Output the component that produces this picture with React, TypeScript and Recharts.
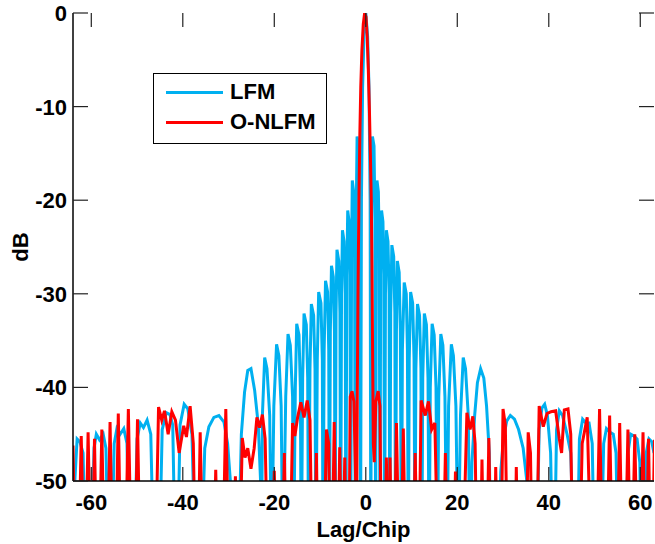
import React from "react";
import { LineChart, Line, XAxis, YAxis, Legend } from "recharts";

// lag (chip) vs. autocorrelation level (dB); -60 marks a null that falls below the axis
const lfmPoints: [number, number][] = [
  [-64.0, -60], [-63.6, -50], [-63.1, -45.5], [-62.5, -45.8], [-61.8, -47], [-61.2, -60],
  [-60.0, -60], [-59.4, -46.5], [-58.9, -45], [-58.2, -45.6], [-57.4, -45], [-56.8, -46.5], [-56.2, -60],
  [-55.6, -60], [-55.0, -46], [-54.4, -44.4], [-53.7, -45], [-52.9, -44.4], [-52.2, -46], [-51.6, -60],
  [-50.6, -60], [-50.0, -45.5], [-49.3, -43.8], [-48.6, -44.3], [-47.8, -43.5], [-47.0, -45], [-46.3, -60],
  [-45.2, -60], [-44.5, -44.5], [-43.6, -42.7], [-42.8, -42.9], [-42.2, -44], [-41.6, -60],
  [-41.2, -60], [-40.6, -44], [-39.7, -41.8], [-38.9, -42.3], [-38.0, -45], [-37.2, -60],
  [-36.0, -60], [-35.2, -46.5], [-34.3, -44.2], [-33.2, -43.2], [-32.1, -43.0], [-31.0, -43.7], [-30.2, -46], [-29.6, -50], [-29.2, -60],
  [-27.9, -60], [-27.2, -45], [-26.5, -40.5], [-25.8, -38.2], [-25.1, -38.0], [-24.3, -40.3], [-23.5, -44], [-23.0, -50], [-22.8, -60],
  [-22.6, -43], [-22.1, -36.8], [-21.6, -38.0], [-21.0, -43], [-20.6, -60],
  [-20.1, -42], [-19.5, -35.4], [-19.0, -36.6], [-18.5, -42], [-18.1, -60],
  [-17.5, -41], [-17.0, -34.3], [-16.5, -35.5], [-16.0, -41], [-15.8, -60],
  [-15.4, -40], [-15.1, -33.2], [-14.6, -34.4], [-14.3, -40], [-14.1, -60],
  [-13.8, -39], [-13.5, -32.1], [-13.0, -33.3], [-12.7, -39], [-12.5, -60],
  [-12.2, -38], [-11.9, -31.1], [-11.4, -32.3], [-11.1, -38], [-10.9, -60],
  [-10.6, -37], [-10.3, -29.8], [-9.8, -31], [-9.5, -37], [-9.35, -60],
  [-9.1, -36], [-8.8, -28.6], [-8.35, -29.8], [-8.1, -36], [-7.95, -60],
  [-7.75, -34], [-7.5, -27.0], [-7.1, -28.2], [-6.85, -34], [-6.7, -60],
  [-6.5, -32], [-6.3, -25.3], [-5.9, -26.5], [-5.65, -32], [-5.5, -60],
  [-5.3, -30], [-5.1, -23.2], [-4.75, -24.4], [-4.5, -30], [-4.35, -60],
  [-4.15, -28], [-3.95, -21.1], [-3.65, -22.3], [-3.45, -28], [-3.3, -60],
  [-3.1, -25], [-2.95, -17.9], [-2.65, -19.1], [-2.45, -25], [-2.3, -60],
  [-2.1, -22], [-1.9, -13.2], [-1.55, -14.2], [-1.3, -22], [-1.15, -60],
  [-0.95, -20], [-0.7, -8], [-0.4, -2.5], [0, 0], [0.4, -2.5], [0.7, -8], [0.95, -20], [1.1, -60],
  [1.25, -22], [1.45, -13.2], [1.8, -14.2], [2.0, -22], [2.15, -60],
  [2.3, -25], [2.45, -17.9], [2.75, -19.1], [2.95, -25], [3.1, -60],
  [3.25, -28], [3.45, -21.1], [3.75, -22.3], [3.95, -28], [4.1, -60],
  [4.3, -30], [4.5, -23.2], [4.85, -24.4], [5.1, -30], [5.25, -60],
  [5.45, -32], [5.7, -24.8], [6.1, -26], [6.35, -32], [6.5, -60],
  [6.7, -34], [6.9, -26.5], [7.3, -27.7], [7.55, -34], [7.8, -60],
  [8.0, -36], [8.4, -28.8], [8.85, -30], [9.1, -36], [9.3, -60],
  [9.5, -37], [9.8, -29.8], [10.25, -31], [10.55, -37], [10.75, -60],
  [10.95, -38], [11.3, -31.1], [11.75, -32.3], [12.05, -38], [12.25, -60],
  [12.45, -39], [12.8, -32.1], [13.25, -33.3], [13.6, -39], [13.85, -60],
  [14.1, -40], [14.5, -33.2], [14.95, -34.4], [15.35, -40], [15.65, -60],
  [15.95, -41], [16.4, -34.3], [16.85, -35.5], [17.3, -41], [17.75, -60],
  [18.1, -42], [18.7, -35.4], [19.15, -36.6], [19.7, -42], [20.2, -60],
  [20.7, -43], [21.3, -36.8], [21.8, -38], [22.4, -43], [22.8, -60],
  [23.2, -48], [23.8, -43], [24.4, -39.5], [25.1, -38.0], [25.8, -39], [26.4, -42], [27.0, -47], [27.4, -60],
  [28.9, -60], [29.5, -49], [30.1, -45.5], [30.8, -43.6], [31.6, -43.0], [32.5, -43.4], [33.4, -44.5], [34.4, -46.5], [35.2, -50], [35.6, -60],
  [37.3, -60], [37.9, -44.5], [38.5, -42.2], [39.1, -41.8], [39.7, -43], [40.4, -47], [40.9, -60],
  [41.2, -60], [41.7, -44.5], [42.3, -42.5], [43.0, -43], [44.0, -45], [44.8, -47], [45.6, -60],
  [46.2, -60], [46.7, -45.5], [47.4, -43.4], [48.1, -43.8], [48.8, -43.8], [49.5, -46], [50.0, -60],
  [51.4, -60], [52.0, -46], [52.6, -44.4], [53.4, -44.8], [54.1, -45], [54.7, -47], [55.2, -60],
  [56.8, -60], [57.3, -47], [57.9, -45], [58.6, -45.2], [59.3, -45.5], [59.9, -48], [60.3, -60],
  [60.8, -60], [61.3, -47], [61.9, -45.5], [62.5, -45.8], [63.0, -47],
];

const nlfmPoints: [number, number][] = [
  [-64.0, -46.2], [-63.5, -60],
  [-62.8, -60], [-62.2, -45.2], [-61.6, -60],
  [-61.3, -60], [-60.7, -44.8], [-60.1, -60],
  [-59.8, -60], [-59.3, -45.5], [-58.8, -60],
  [-58.3, -60], [-57.7, -44.5], [-57.1, -60],
  [-56.5, -60], [-55.9, -43.7], [-55.3, -60],
  [-54.7, -60], [-54.1, -42.8], [-53.5, -60],
  [-52.6, -60], [-51.9, -42.3], [-51.2, -60],
  [-50.5, -60], [-49.9, -43.4], [-49.3, -60],
  [-46.0, -60], [-45.3, -42.1], [-44.6, -43.5], [-44.0, -42.5], [-43.2, -45], [-42.4, -42.6], [-41.6, -43.5],
  [-40.8, -47], [-39.8, -44.1], [-39.2, -45.3], [-38.4, -42.0], [-37.7, -46], [-37.2, -60],
  [-36.7, -60], [-36.2, -44.8], [-35.6, -60],
  [-33.3, -60], [-32.8, -48.8], [-32.3, -60],
  [-31.3, -60], [-30.6, -42.3], [-29.9, -60],
  [-28.9, -60], [-28.5, -49.5], [-28.1, -60],
  [-27.6, -60], [-27.0, -45.4], [-26.4, -47.5], [-25.8, -46.5], [-25.1, -48.7], [-24.4, -46.5], [-23.8, -43.2],
  [-23.2, -44.3], [-22.6, -42.9], [-22.0, -45.5], [-21.4, -60],
  [-20.5, -60], [-20.0, -48.9], [-19.5, -60],
  [-18.3, -60], [-17.8, -47], [-17.3, -60],
  [-16.6, -60], [-16.0, -43.8], [-15.5, -45.2], [-14.9, -43.2], [-14.2, -41.6], [-13.5, -43.2], [-12.8, -41.4],
  [-12.2, -43.5], [-11.7, -60],
  [-11.2, -60], [-10.8, -47], [-10.4, -60],
  [-9.2, -60], [-8.6, -44.5], [-8.1, -46], [-7.8, -60],
  [-7.4, -60], [-6.9, -43.7], [-6.4, -60],
  [-6.1, -60], [-5.7, -46.4], [-5.3, -60],
  [-5.0, -60], [-4.6, -47.5], [-4.2, -60],
  [-3.7, -60], [-3.4, -41], [-3.0, -40.4], [-2.6, -41.5], [-2.3, -48],
  [-2.0, -55], [-1.85, -40], [-1.7, -30], [-1.5, -20], [-1.3, -13], [-1.1, -8], [-0.85, -4], [-0.55, -1.2],
  [-0.25, 0], [0.05, -0.4], [0.3, -2.5], [0.55, -6], [0.8, -10.5], [1.0, -15], [1.2, -20], [1.35, -27],
  [1.5, -37], [1.65, -46], [1.85, -48],
  [2.2, -41.5], [2.7, -40.4], [3.1, -42], [3.4, -60],
  [4.1, -60], [4.5, -47.5], [4.9, -60],
  [5.0, -60], [5.3, -47.5], [5.7, -60],
  [6.2, -60], [6.7, -43.8], [7.3, -60],
  [7.7, -60], [8.2, -44.4], [8.7, -60],
  [10.3, -60], [10.8, -47], [11.3, -60],
  [11.6, -60], [12.1, -41.4], [13.0, -43], [13.7, -41.5], [14.4, -44.5], [15.1, -43.8], [15.8, -60],
  [16.9, -60], [17.4, -47], [17.9, -60],
  [19.2, -60], [19.6, -49], [20.0, -60],
  [21.2, -60], [22.1, -42.7], [22.8, -44.5], [23.4, -43.1], [23.9, -46], [24.3, -60],
  [25.0, -60], [25.4, -47.7], [25.8, -60],
  [26.4, -60], [26.9, -45.4], [27.4, -60],
  [28.1, -60], [28.4, -48.5], [28.8, -60],
  [29.5, -60], [30.0, -42.3], [30.5, -44], [31.0, -60],
  [32.6, -60], [32.9, -48.5], [33.3, -60],
  [35.0, -60], [35.5, -44.8], [36.0, -47], [36.4, -60],
  [37.3, -60], [37.9, -42], [38.8, -44.2], [39.6, -42.8], [40.5, -42.6], [41.5, -42.5], [42.3, -45.5],
  [42.8, -47], [43.4, -42.4], [44.2, -42.3], [44.8, -45], [45.3, -60],
  [46.7, -60], [47.3, -46], [48.4, -43.2], [49.3, -60],
  [50.4, -60], [51.1, -42.3], [51.8, -60],
  [52.7, -60], [53.3, -43], [53.9, -60],
  [54.9, -60], [55.5, -43.8], [56.1, -60],
  [56.7, -60], [57.3, -44.5], [57.9, -60],
  [58.2, -60], [58.8, -45], [59.4, -60],
  [60.0, -60], [60.6, -44.8], [61.1, -60],
  [61.3, -60], [61.8, -45.5], [62.3, -60],
  [62.6, -60], [63.1, -45.6],
];

const seriesNames = ["LFM", "O-NLFM"];
const xTicks = [-60, -40, -20, 0, 20, 40, 60];
const yTicks = [-50, -40, -30, -20, -10, 0];

const BLUE = "#00b0f0";
const RED = "#ff0000";
const FONT = "'Liberation Sans', Arial, Helvetica, sans-serif";
const TICK = "#222";

// chart box
const W = 655;
const H = 544;
const M = { top: 13, right: 1, bottom: 0, left: 0 };
const X_AXIS_H = 63;
const Y_AXIS_W = 73;
const PLOT_W = W - M.left - M.right - Y_AXIS_W;
const PLOT_H = H - M.top - M.bottom - X_AXIS_H;

const lfmData = lfmPoints.map(([lag, db]) => ({ lag, db }));
const nlfmData = nlfmPoints.map(([lag, db]) => ({ lag, db }));

const labelStyle = { fontFamily: FONT, fontWeight: 700, fontSize: 22, fill: "#000" };

// inward ticks on bottom and top edges, label below
const XTick = (props: any) => {
  const { x, y, payload } = props;
  return (
    <g>
      <line x1={x} y1={y} x2={x} y2={y - 14} stroke={TICK} strokeWidth={1.2} />
      <line x1={x} y1={y - PLOT_H} x2={x} y2={y - PLOT_H + 14} stroke={TICK} strokeWidth={1.2} />
      <text x={x} y={y + 29} textAnchor="middle" style={labelStyle}>
        {payload.value}
      </text>
    </g>
  );
};

// inward ticks on left and right edges, label on the left
const YTick = (props: any) => {
  const { x, y, payload } = props;
  return (
    <g>
      <line x1={x} y1={y} x2={x + 15} y2={y} stroke={TICK} strokeWidth={1.2} />
      <line x1={x + PLOT_W} y1={y} x2={x + PLOT_W - 15} y2={y} stroke={TICK} strokeWidth={1.2} />
      <text x={x - 6} y={y + 8} textAnchor="end" style={labelStyle}>
        {payload.value}
      </text>
    </g>
  );
};

const LegendBox = () => (
  <div
    style={{
      border: "1px solid #000",
      background: "#fff",
      width: 172,
      padding: "3px 0 6px 0",
      fontFamily: FONT,
      fontWeight: 700,
      fontSize: 22,
    }}
  >
    {seriesNames.map((name, i) => (
      <div key={name} style={{ display: "flex", alignItems: "center", height: 30 }}>
        <span
          style={{
            display: "inline-block",
            width: 57,
            height: 3,
            marginLeft: 12,
            marginRight: 7,
            background: i === 0 ? BLUE : RED,
          }}
        />
        <span>{name}</span>
      </div>
    ))}
  </div>
);

export default function App() {
  return (
    <div style={{ width: W, height: H }}>
      <style>{"body{margin:0}"}</style>
      <LineChart width={W} height={H} margin={M}>
        <XAxis
          type="number"
          dataKey="lag"
          domain={[-64, 63]}
          allowDataOverflow
          ticks={xTicks}
          interval={0}
          height={X_AXIS_H}
          tickSize={0}
          tickMargin={0}
          tickLine={false}
          axisLine={{ stroke: "#000", strokeWidth: 1.5 }}
          tick={<XTick />}
          label={{
            content: (p: any) => {
              const vb = p.viewBox;
              return (
                <text x={vb.x + vb.width / 2} y={vb.y + 56} textAnchor="middle" style={labelStyle}>
                  Lag/Chip
                </text>
              );
            },
          }}
        />
        <XAxis
          xAxisId="top"
          orientation="top"
          type="number"
          domain={[-64, 63]}
          allowDataOverflow
          height={0}
          tick={false}
          tickLine={false}
          axisLine={{ stroke: "#000", strokeWidth: 1.5 }}
        />
        <YAxis
          type="number"
          domain={[-50, 0]}
          allowDataOverflow
          ticks={yTicks}
          interval={0}
          width={Y_AXIS_W}
          tickSize={0}
          tickMargin={0}
          tickLine={false}
          axisLine={{ stroke: "#000", strokeWidth: 1.5 }}
          tick={<YTick />}
          label={{
            content: (p: any) => {
              const vb = p.viewBox;
              const cx = 28;
              const cy = vb.y + vb.height / 2;
              return (
                <text
                  x={cx}
                  y={cy}
                  textAnchor="middle"
                  transform={`rotate(-90 ${cx} ${cy})`}
                  style={labelStyle}
                >
                  dB
                </text>
              );
            },
          }}
        />
        <YAxis
          yAxisId="right"
          orientation="right"
          type="number"
          domain={[-50, 0]}
          allowDataOverflow
          width={0}
          tick={false}
          tickLine={false}
          axisLine={{ stroke: "#000", strokeWidth: 1.5 }}
        />
        <Legend
          layout="vertical"
          align="center"
          verticalAlign="middle"
          wrapperStyle={{ left: 153, top: 73, width: "auto" }}
          content={<LegendBox />}
        />
        <Line
          data={lfmData}
          dataKey="db"
          name={seriesNames[0]}
          type="linear"
          stroke={BLUE}
          strokeWidth={3}
          dot={false}
          isAnimationActive={false}
        />
        <Line
          data={nlfmData}
          dataKey="db"
          name={seriesNames[1]}
          type="linear"
          stroke={RED}
          strokeWidth={3}
          dot={false}
          isAnimationActive={false}
        />
      </LineChart>
    </div>
  );
}
